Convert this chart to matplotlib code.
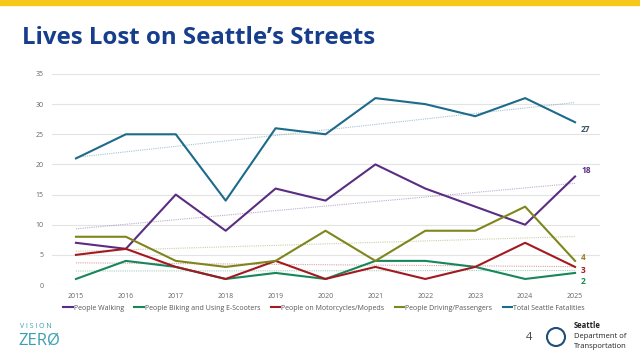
import matplotlib.pyplot as plt
import numpy as np

years = [2015, 2016, 2017, 2018, 2019, 2020, 2021, 2022, 2023, 2024, 2025]
walking = [7, 6, 15, 9, 16, 14, 20, 16, 13, 10, 18]
biking = [1, 4, 3, 1, 2, 1, 4, 4, 3, 1, 2]
moto = [5, 6, 3, 1, 4, 1, 3, 1, 3, 7, 3]
driving = [8, 8, 4, 3, 4, 9, 4, 9, 9, 13, 4]
total = [21, 25, 25, 14, 26, 25, 31, 30, 28, 31, 27]

names = ["People Walking", "People Biking and Using E-Scooters",
         "People on Motorcycles/Mopeds", "People Driving/Passengers",
         "Total Seattle Fatalities"]
colors = ["#5a2d82", "#17875a", "#a3191f", "#7e861b", "#1d6b8a"]
label_colors = ["#5a2d82", "#17875a", "#a3191f", "#a07a2a", "#3c5566"]
series = [walking, biking, moto, driving, total]

plt.rcParams['font.family'] = ['Open Sans', 'DejaVu Sans']

fig = plt.figure(figsize=(6.4, 3.57), dpi=100)
fig.patch.set_facecolor("white")

# yellow bar at the top of the slide
fig.patches.append(plt.Rectangle((0, 1 - 5 / 357), 1, 5 / 357, transform=fig.transFigure,
                                 color="#f6c81c", zorder=5))

fig.text(22 / 640, 1 - 38 / 357, "Lives Lost on Seattle\u2019s Streets", fontsize=17.3,
         fontweight="bold", color="#163e8c", va="center", ha="left")

ax = fig.add_axes([52 / 640, 72 / 357, 548 / 640, 211 / 357])
x = np.array(years)
for vals, c in zip(series, colors):
    k, b = np.polyfit(x, vals, 1)
    ax.plot(x, k * x + b, color=c, lw=0.8, ls=(0, (1, 1)), alpha=0.4)
for vals, c, n in zip(series, colors, names):
    ax.plot(years, vals, color=c, lw=1.5, label=n)

ends = [(18, 1.0), (2, -1.5), (3, -0.6), (4, 0.6), (27, -1.2)]
for (v, dy), c in zip(ends, label_colors):
    ax.text(2025.12, v + dy, str(v), color=c, fontsize=6, fontweight="bold",
            va="center", ha="left")

ax.set_xlim(2014.52, 2025.5)
ax.set_ylim(0, 35)
ax.set_xticks(years)
ax.set_yticks(range(0, 36, 5))
ax.tick_params(length=0, labelsize=5, colors="#666666", pad=6)
ax.grid(axis="y", color="#e3e3e3", lw=0.8)
ax.set_axisbelow(True)
for s in ax.spines.values():
    s.set_visible(False)

fig.legend(loc="center", bbox_to_anchor=(324 / 640, 1 - 308 / 357), ncol=5,
           fontsize=5, frameon=False, handlelength=1.4, handletextpad=0.1,
           columnspacing=1.5, labelcolor="#555555")

# footer
fig.text(20 / 640, 1 - 327 / 357, "V I S I O N", fontsize=5, color="#3a9fb0",
         ha="left", va="center")
fig.text(18 / 640, 1 - 341 / 357, "ZER\u00d8", fontsize=12, color="#3a9fb0",
         ha="left", va="center")
fig.text(529 / 640, 1 - 337 / 357, "4", fontsize=8, color="#444444",
         ha="center", va="center")
fig.patches.append(plt.Circle((556 / 640 * 6.4, (1 - 337 / 357) * 3.57), 0.09,
                              transform=fig.dpi_scale_trans, fill=False,
                              ec="#1f4e79", lw=1.5))
fig.text(574 / 640, 1 - 325 / 357, "Seattle", fontsize=5.5, fontweight="bold",
         color="#222222", ha="left", va="center")
fig.text(574 / 640, 1 - 336 / 357, "Department of", fontsize=5.5,
         color="#222222", ha="left", va="center")
fig.text(574 / 640, 1 - 347 / 357, "Transportation", fontsize=5.5,
         color="#222222", ha="left", va="center")

fig.savefig("out.png", dpi=100)
